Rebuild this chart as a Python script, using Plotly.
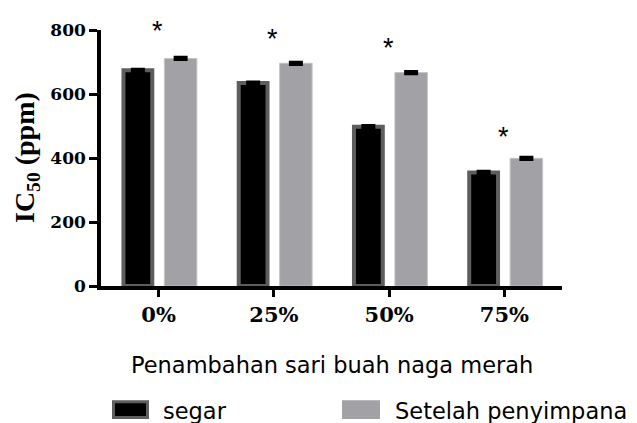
import plotly.graph_objects as go

categories = ["0%", "25%", "50%", "75%"]
segar = [674, 634, 498, 355]
segar_err = [2, 2, 2, 2]
setelah = [711, 696, 667, 399]
setelah_err = [2, 2, 2, 2]
star_y = [790, 767, 736, 459]
series_names = ["segar", "Setelah penyimpanan"]
x_title = "Penambahan sari buah naga merah"
y_title = "IC<sub>50</sub> (ppm)"
y_ticks = [0, 200, 400, 600, 800]

# page body has an 8px margin; work in screenshot pixels and shift
O = 8
W, H = 637 - O, 423 - O
L, T = 101 - O, 24 - O
R = 637 - 562
B = 423 - 286
pw, ph = W - L - R, H - T - B

def px(x):
    return (x - O - L) / pw

def py(y):
    return (H - B - (y - O)) / ph

fig = go.Figure()
fig.add_trace(go.Bar(
    x=categories, y=segar, name=series_names[0],
    offset=-0.305, width=0.25,
    marker=dict(color="#000000", line=dict(color="#5e5e5e", width=4)),
    error_y=dict(type="data", array=segar_err, visible=True, color="#000000", thickness=4, width=7),
    showlegend=False,
))
fig.add_trace(go.Bar(
    x=categories, y=setelah, name=series_names[1],
    offset=0.05, width=0.282,
    marker=dict(color="#a2a2a6", line=dict(color="#c4c4c6", width=1)),
    error_y=dict(type="data", array=setelah_err, visible=True, color="#000000", thickness=4, width=7),
    showlegend=False,
))

for c, s in zip(categories, star_y):
    fig.add_annotation(x=c, y=s, xref="x", yref="y", text="*", showarrow=False,
                       font=dict(family="Liberation Sans", size=27, color="#000"),
                       yanchor="middle", xshift=-1, yshift=2)

# axis titles
fig.add_annotation(x=px(26), y=0.5, xref="paper", yref="paper", text=y_title, textangle=-90,
                   showarrow=False, font=dict(family="Liberation Serif", size=28, color="#000", weight="bold"),
                   xanchor="center", yanchor="middle")
fig.add_annotation(x=0.5, y=py(367), xref="paper", yref="paper", text=x_title,
                   showarrow=False, font=dict(family="DejaVu Sans", size=22.5, color="#000"),
                   xanchor="center", yanchor="middle")

# legend (manual)
fig.add_shape(type="rect", xref="paper", yref="paper",
              x0=px(113.5), x1=px(147.5), y0=py(404.5), y1=py(420.5),
              fillcolor="#000000", line=dict(color="#5e5e5e", width=3))
fig.add_annotation(x=px(161), y=py(414), xref="paper", yref="paper", text=series_names[0],
                   showarrow=False, font=dict(family="DejaVu Sans", size=22.5, color="#000"),
                   xanchor="left", yanchor="middle")
fig.add_shape(type="rect", xref="paper", yref="paper",
              x0=px(342), x1=px(380), y0=py(403), y1=py(422),
              fillcolor="#a2a2a6", line=dict(width=0))
fig.add_annotation(x=px(393), y=py(414), xref="paper", yref="paper", text=series_names[1],
                   showarrow=False, font=dict(family="DejaVu Sans", size=22.5, color="#000"),
                   xanchor="left", yanchor="middle")

fig.update_layout(
    width=W, height=H,
    margin=dict(l=L, r=R, t=T, b=B, pad=0),
    plot_bgcolor="white", paper_bgcolor="white",
    barmode="overlay",
    showlegend=False,
)
fig.update_xaxes(
    range=[-0.5, 3.5], showline=True, linecolor="#000", linewidth=3.5,
    ticks="outside", ticklen=7, tickwidth=3, tickcolor="#000",
    tickfont=dict(family="DejaVu Serif", size=21, color="#000", weight="bold"),
    showgrid=False, zeroline=False, fixedrange=True,
)
fig.update_yaxes(
    range=[0, 800], tickvals=y_ticks, showline=True, linecolor="#000", linewidth=3.5,
    ticks="outside", ticklen=8, tickwidth=3, tickcolor="#000",
    tickfont=dict(family="DejaVu Serif", size=17, color="#000", weight="bold"),
    showgrid=False, zeroline=False, fixedrange=True,
)

fig.write_html("out.html")
